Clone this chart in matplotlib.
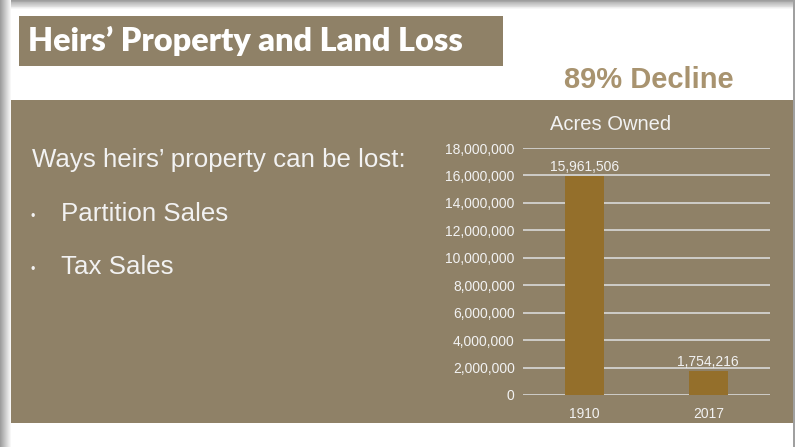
import numpy as np
import matplotlib.pyplot as plt
from matplotlib.patches import Rectangle
from matplotlib.ticker import FuncFormatter

# data
years = ['1910', '2017']
acres = [15961506, 1754216]
y_ticks = [0, 2000000, 4000000, 6000000, 8000000, 10000000,
           12000000, 14000000, 16000000, 18000000]
bullets = ['Partition Sales', 'Tax Sales']

W, H = 795, 447
brown = '#8F8167'
bar_col = '#946F2B'
light = '#F2F2F2'

plt.rcParams['font.family'] = ['Liberation Sans', 'DejaVu Sans']

fig = plt.figure(figsize=(W / 100, H / 100), dpi=100, facecolor='white')

# background layer in pixel coords
bg = fig.add_axes([0, 0, 1, 1])
bg.set_xlim(0, W)
bg.set_ylim(H, 0)
bg.axis('off')

# slide shadow (top and left)
for i in range(11):
    g = 0.62 + 0.035 * i
    bg.add_patch(Rectangle((0, i * 9 / 11), W, 9 / 11 + 0.5, color=(g, g, g), lw=0))
for i in range(11):
    g = 0.62 + 0.035 * i
    bg.add_patch(Rectangle((i, 0), 1.2, H, color=(g, g, g), lw=0))
bg.add_patch(Rectangle((11, 9), W - 13, H - 9, color='white', lw=0))
bg.add_patch(Rectangle((W - 2, 0), 2, H, color='#A0A0A0', lw=0))

# title box and content band
bg.add_patch(Rectangle((19, 16), 484, 50, color=brown, lw=0))
bg.add_patch(Rectangle((11, 100), W - 13, 323, color=brown, lw=0))

bg.text(28, 41, 'Heirs\u2019 Property and Land Loss', color='white',
        fontsize=23.3, fontweight='heavy', family=['Lato', 'DejaVu Sans'],
        va='center', ha='left')
bg.text(649, 80, '89% Decline', color='#A8936F', fontsize=21,
        fontweight='bold', va='center', ha='center')

bg.text(32, 160, 'Ways heirs\u2019 property can be lost:', color=light,
        fontsize=18.6, va='center', ha='left')
for k, b in enumerate(bullets):
    yy = 214 + 53 * k
    bg.text(33, yy + 3, '\u2022', color=light, fontsize=9, va='center', ha='center')
    bg.text(61, yy, b, color=light, fontsize=18.6, va='center', ha='left')

bg.text(611, 124, 'Acres Owned', color=light, fontsize=14.5,
        va='center', ha='center')

# chart
x0, x1, ytop, ybot = 523, 770, 148, 395
ax = fig.add_axes([x0 / W, (H - ybot) / H, (x1 - x0) / W, (ybot - ytop) / H])
ax.set_facecolor('none')
pos = np.arange(len(years))
ax.bar(pos, acres, width=0.315, color=bar_col, zorder=3)
ax.set_xlim(-0.5, len(years) - 0.5)
ax.set_ylim(0, 18000000)
ax.set_yticks(y_ticks)
ax.yaxis.set_major_formatter(FuncFormatter(lambda v, p: f'{int(v):,}'))
ax.set_xticks(pos)
ax.set_xticklabels(years)
ax.grid(axis='y', color='#D9D9D9', lw=1.2, zorder=1)
for s in ax.spines.values():
    s.set_visible(False)
ax.tick_params(length=0, colors=light, labelsize=10)
ax.tick_params(axis='y', pad=6)
ax.tick_params(axis='x', pad=9)
for p, v in zip(pos, acres):
    ax.annotate(f'{v:,}', (p, v), xytext=(0, 3.6), textcoords='offset points',
                color=light, fontsize=10, ha='center', va='baseline')

fig.savefig('out.png', dpi=100, facecolor='white')
